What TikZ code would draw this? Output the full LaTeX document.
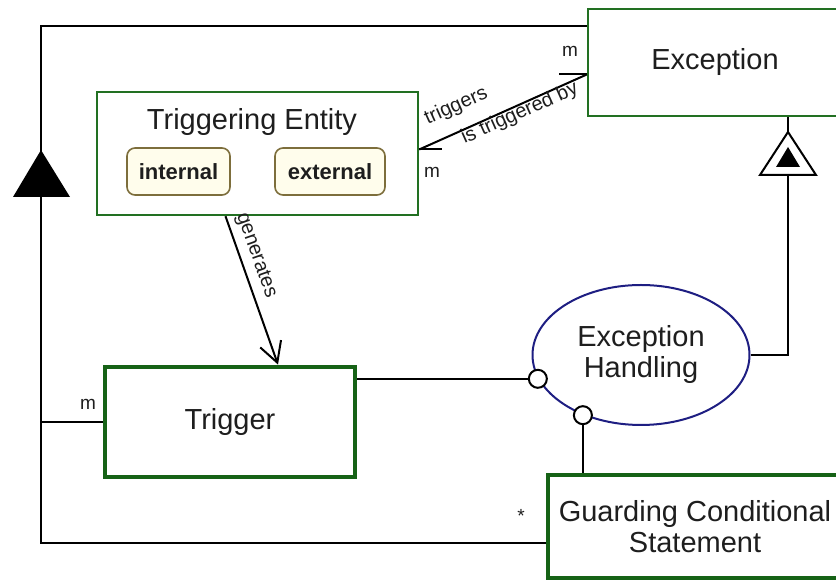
\documentclass[tikz,border=0pt]{standalone}
\usepackage{fontspec}
\setmainfont{Liberation Sans}
\usetikzlibrary{shapes.geometric,arrows.meta}
\definecolor{boxgreen}{RGB}{34,112,34}
\definecolor{darkgreen}{RGB}{22,98,22}
\definecolor{ovalblue}{RGB}{30,30,130}
\definecolor{kindline}{RGB}{125,110,60}
\definecolor{kindfill}{RGB}{255,253,236}
\definecolor{inkgray}{RGB}{30,30,30}

\begin{document}
\begin{tikzpicture}[x=0.5pt,y=-0.5pt,
	classbox/.style={draw=boxgreen,line width=1.2pt,fill=white,inner sep=0pt,text=inkgray,
		font=\fontsize{14.5}{16}\selectfont},
	boldbox/.style={classbox,draw=darkgreen,line width=2.4pt},
	kindbox/.style={draw=kindline,fill=kindfill,rounded corners=4pt,line width=0.8pt,inner sep=0pt,
		font=\fontsize{11}{12}\selectfont\bfseries,text=inkgray},
	port/.style={circle,draw,fill=white,line width=1pt,minimum size=9pt,inner sep=0pt},
	conn/.style={line width=1pt},
	lbl/.style={font=\fontsize{10}{11}\selectfont,text=inkgray,inner sep=1pt},
	mult/.style={font=\fontsize{9.5}{10}\selectfont,text=inkgray,inner sep=0pt}]
	\useasboundingbox (0,0) rectangle (836,581);

	% classes
	\node[classbox,minimum width=127pt,minimum height=53.5pt] (exc) at (715,62.5) {Exception};
	\node[classbox,minimum width=160.5pt,minimum height=61.5pt] (tent) at (257.5,153.5) {};
	\node[classbox,draw=none,fill=none] (tentname) at (252,122) {Triggering Entity};
	\node[kindbox,minimum width=51.5pt,minimum height=23.5pt] (intl) at (178.5,171.5) {internal};
	\node[kindbox,minimum width=55pt,minimum height=23.5pt] (extl) at (330,171.5) {external};
	\node[boldbox,minimum width=125pt,minimum height=55pt] (trig) at (230,422) {Trigger};
	\node[boldbox,draw=darkgreen,minimum width=147pt,minimum height=51.5pt,align=center,
		font=\fontsize{14.5}{15.5}\selectfont] (guard) at (695,526.5) {Guarding Conditional\\Statement};
	\node[ellipse,draw=ovalblue,line width=1pt,fill=white,minimum width=108.5pt,minimum height=70pt,
		inner sep=0pt,align=center,text=inkgray,font=\fontsize{14.5}{15.5}\selectfont] (hand) at (641,355)
		{Exception\\Handling};

	% ports on the handling
	\node[port] (p1) at (hand.193) {};
	\node[port] (p2) at (hand.226) {};
	\draw[conn] (trig.east |- p1) -- (p1);
	\draw[conn] (p2) -- (p2 |- guard.north);

	% generalisation to exception
	\coordinate (gb) at (788,175);
	\draw[conn] (hand.east) -| (gb);
	\draw[conn,fill=white] (gb) ++(-28,0) -- ++(28,-43) -- ++(28,43) -- cycle;
	\fill ([shift={(-12,-8)}]gb) -- ([shift={(0,-28)}]gb) -- ([shift={(12,-8)}]gb) -- cycle;
	\draw[conn] ([yshift=21.5pt]gb) -- (exc.south -| gb);

	% outer association
	\coordinate (lt) at (41,26);
	\coordinate (lb) at (41,543);
	\draw[conn] (lb -| guard.west) -- (lb) -- (lt) -- (lt -| exc.west);
	\draw[conn] (trig.west) -- (trig.west -| lt);
	\fill (13,197) -- (41,150) -- (70,197) -- cycle;
	\node[mult] (mtrig) at (88,404) {m};
	\node[mult] (mguard) at (521,516) {*};

	% triggers / is triggered by
	\draw[conn] ([yshift=2pt]tent.east) -- node[lbl,sloped,above=6pt,pos=0.28] {triggers}
		node[lbl,sloped,below=-2pt,pos=0.58] {is triggered by} ([yshift=-6pt]exc.west);
	\draw[conn] ([yshift=-6pt]exc.west) -- ++(-28,0);
	\draw[conn] ([yshift=2pt]tent.east) -- ++(23,0);
	\node[mult] (mexc) at (570,51) {m};
	\node[mult] (mtent) at (432,172) {m};

	% generates
	\draw[conn,-{Straight Barb[length=10pt,width=11pt]}] ([xshift=-16pt]tent.south)
		-- node[lbl,sloped,above=2pt,pos=0.3] {generates} ([xshift=24pt]trig.north);
\end{tikzpicture}
\end{document}
